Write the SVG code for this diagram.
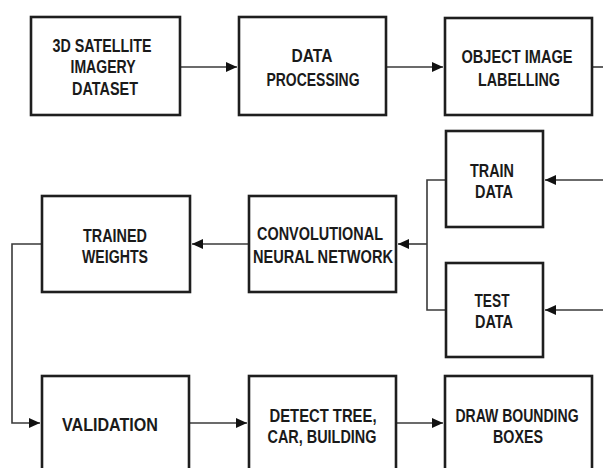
<svg xmlns="http://www.w3.org/2000/svg" width="603" height="468" viewBox="0 0 603 468">
<style>
.box{fill:#fff;stroke:#1e1e1e;stroke-width:2.6}
.lbl{font-family:"Liberation Sans",Arial,sans-serif;font-weight:bold;font-size:18px;fill:#1a1a1a;text-anchor:middle}
.con{fill:none;stroke:#3a3a3a;stroke-width:1.6}
</style>
<defs>
<marker id="ah" markerUnits="userSpaceOnUse" markerWidth="12" markerHeight="10" refX="11" refY="5" orient="auto">
<path d="M0,0 L11,5 L0,10 z" fill="#111"/>
</marker>
</defs>
<rect width="603" height="468" fill="#fff"/>
<g id="connectors">
<path class="con" d="M181,67 H237" marker-end="url(#ah)"/>
<path class="con" d="M386,67 H443" marker-end="url(#ah)"/>
<path class="con" d="M593,67 H603"/>
<path class="con" d="M603,180 H545" marker-end="url(#ah)"/>
<path class="con" d="M603,310 H545" marker-end="url(#ah)"/>
<path class="con" d="M445,180 H427 V310 H445"/>
<path class="con" d="M427,244 H398" marker-end="url(#ah)"/>
<path class="con" d="M248,244 H192" marker-end="url(#ah)"/>
<path class="con" d="M41,244 H12 V423 H40" marker-end="url(#ah)"/>
<path class="con" d="M190,423 H247" marker-end="url(#ah)"/>
<path class="con" d="M397,423 H443" marker-end="url(#ah)"/>
</g>
<g id="n1">
<rect class="box" x="31" y="17" width="149" height="98"/>
<text class="lbl" x="102" y="52" textLength="99" lengthAdjust="spacingAndGlyphs">3D SATELLITE</text>
<text class="lbl" x="103" y="73" textLength="65" lengthAdjust="spacingAndGlyphs">IMAGERY</text>
<text class="lbl" x="105" y="95" textLength="66" lengthAdjust="spacingAndGlyphs">DATASET</text>
</g>
<g id="n2">
<rect class="box" x="239" y="17" width="147" height="98"/>
<text class="lbl" x="312" y="62" textLength="41" lengthAdjust="spacingAndGlyphs">DATA</text>
<text class="lbl" x="313" y="86" textLength="93" lengthAdjust="spacingAndGlyphs">PROCESSING</text>
</g>
<g id="n3">
<rect class="box" x="445" y="18" width="147" height="97"/>
<text class="lbl" x="517" y="63" textLength="111" lengthAdjust="spacingAndGlyphs">OBJECT IMAGE</text>
<text class="lbl" x="519" y="86" textLength="82" lengthAdjust="spacingAndGlyphs">LABELLING</text>
</g>
<g id="n4">
<rect class="box" x="446" y="131" width="97" height="96"/>
<text class="lbl" x="492" y="177" textLength="44" lengthAdjust="spacingAndGlyphs">TRAIN</text>
<text class="lbl" x="494" y="198" textLength="38" lengthAdjust="spacingAndGlyphs">DATA</text>
</g>
<g id="n5">
<rect class="box" x="446" y="263" width="97" height="94"/>
<text class="lbl" x="492" y="307" textLength="35" lengthAdjust="spacingAndGlyphs">TEST</text>
<text class="lbl" x="494" y="328" textLength="38" lengthAdjust="spacingAndGlyphs">DATA</text>
</g>
<g id="n6">
<rect class="box" x="249" y="196" width="147" height="96"/>
<text class="lbl" x="320" y="240" textLength="126" lengthAdjust="spacingAndGlyphs">CONVOLUTIONAL</text>
<text class="lbl" x="323" y="263" textLength="140" lengthAdjust="spacingAndGlyphs">NEURAL NETWORK</text>
</g>
<g id="n7">
<rect class="box" x="42" y="196" width="148" height="96"/>
<text class="lbl" x="115" y="242" textLength="64" lengthAdjust="spacingAndGlyphs">TRAINED</text>
<text class="lbl" x="115" y="263" textLength="66" lengthAdjust="spacingAndGlyphs">WEIGHTS</text>
</g>
<g id="n8">
<rect class="box" x="42" y="376" width="147" height="110"/>
<text class="lbl" x="110" y="431" textLength="96" lengthAdjust="spacingAndGlyphs">VALIDATION</text>
</g>
<g id="n9">
<rect class="box" x="249" y="376" width="147" height="110"/>
<text class="lbl" x="323" y="422" textLength="107" lengthAdjust="spacingAndGlyphs">DETECT TREE,</text>
<text class="lbl" x="322" y="443" textLength="109" lengthAdjust="spacingAndGlyphs">CAR, BUILDING</text>
</g>
<g id="n10">
<rect class="box" x="445" y="376" width="147" height="110"/>
<text class="lbl" transform="translate(517,422) scale(0.78,1)">DRAW BOUNDING</text>
<text class="lbl" x="518" y="443" textLength="50" lengthAdjust="spacingAndGlyphs">BOXES</text>
</g>
</svg>
